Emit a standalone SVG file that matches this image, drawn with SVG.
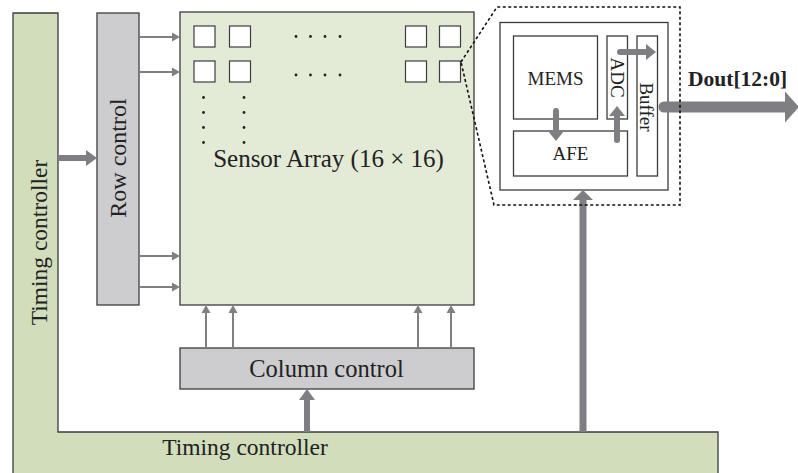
<svg xmlns="http://www.w3.org/2000/svg" width="798" height="473" viewBox="0 0 798 473">
<style>
.box{stroke:#3c3c3c;stroke-width:1.3}
.tc{fill:#d1ddbb}
.arr{fill:#e3ead6}
.gray{fill:#cdcdcf}
.wht{fill:#ffffff}
.pix{fill:#ffffff;stroke:#3c3c3c;stroke-width:1.2}
.t{font-family:"Liberation Serif","Times New Roman",serif;fill:#222;text-anchor:middle}
.thin{stroke:#808080;stroke-width:2;fill:none}
.thick{stroke:#7f7f83;fill:none}
.dot{fill:#222}
</style>
<defs>
<marker id="hThin" markerUnits="userSpaceOnUse" markerWidth="8" markerHeight="9" refX="0" refY="4.5" orient="auto" overflow="visible"><path d="M0,0 L8,4.5 L0,9 Z" fill="#808080"/></marker>
<marker id="hMid" markerUnits="userSpaceOnUse" markerWidth="11" markerHeight="16" refX="0" refY="8" orient="auto" overflow="visible"><path d="M0,0 L11,8 L0,16 Z" fill="#7f7f83"/></marker>
<marker id="hIn" markerUnits="userSpaceOnUse" markerWidth="10" markerHeight="16" refX="0" refY="8" orient="auto" overflow="visible"><path d="M0,0 L10,8 L0,16 Z" fill="#7f7f83"/></marker>
<marker id="hUp" markerUnits="userSpaceOnUse" markerWidth="10" markerHeight="20" refX="0" refY="10" orient="auto" overflow="visible"><path d="M0,0 L10,10 L0,20 Z" fill="#7f7f83"/></marker>
<marker id="hOut" markerUnits="userSpaceOnUse" markerWidth="14" markerHeight="31" refX="0" refY="15.5" orient="auto" overflow="visible"><path d="M0,0 L14,15.5 L0,31 Z" fill="#7f7f83"/></marker>
</defs>

<g id="timing-controller">
<path class="box tc" d="M13,13 H58 V432 H718 V476 H13 Z"/>
<text class="t" font-size="23.5" transform="translate(47,242.5) rotate(-90)">Timing controller</text>
<text class="t" font-size="23.5" x="245" y="455">Timing controller</text>
</g>

<g id="row-control">
<rect class="box gray" x="97" y="13" width="42" height="292"/>
<text class="t" font-size="24" transform="translate(125.5,158) rotate(-90)">Row control</text>
</g>

<g id="sensor-array">
<rect class="box arr" x="180" y="12" width="294" height="293"/>
<rect class="pix" x="194" y="26" width="21" height="21"/>
<rect class="pix" x="229.5" y="26" width="21" height="21"/>
<rect class="pix" x="405.5" y="26" width="21" height="21"/>
<rect class="pix" x="439.5" y="26" width="21" height="21"/>
<rect class="pix" x="194" y="61" width="21" height="21"/>
<rect class="pix" x="229.5" y="61" width="21" height="21"/>
<rect class="pix" x="405.5" y="61" width="21" height="21"/>
<rect class="pix" x="439.5" y="61" width="21" height="21"/>
<circle class="dot" cx="296" cy="36.5" r="1.4"/><circle class="dot" cx="310.5" cy="36.5" r="1.4"/><circle class="dot" cx="325" cy="36.5" r="1.4"/><circle class="dot" cx="340" cy="36.5" r="1.4"/>
<circle class="dot" cx="296" cy="75" r="1.4"/><circle class="dot" cx="310.5" cy="75" r="1.4"/><circle class="dot" cx="325" cy="75" r="1.4"/><circle class="dot" cx="340" cy="75" r="1.4"/>
<circle class="dot" cx="203.5" cy="97.5" r="1.4"/><circle class="dot" cx="203.5" cy="112.5" r="1.4"/><circle class="dot" cx="203.5" cy="127.5" r="1.4"/><circle class="dot" cx="203.5" cy="142.5" r="1.4"/>
<circle class="dot" cx="244" cy="97.5" r="1.4"/><circle class="dot" cx="244" cy="112.5" r="1.4"/><circle class="dot" cx="244" cy="127.5" r="1.4"/><circle class="dot" cx="244" cy="142.5" r="1.4"/>
<text class="t" font-size="25" x="328.5" y="167">Sensor Array (16 × 16)</text>
</g>

<g id="column-control">
<rect class="box gray" x="180" y="348" width="294" height="41"/>
<text class="t" font-size="24.5" x="326.5" y="376.5">Column control</text>
</g>

<g id="pixel-detail">
<rect class="box wht" x="500" y="22.5" width="168" height="167.5"/>
<g id="mems"><rect class="box wht" x="513.5" y="36" width="84" height="83"/><text class="t" font-size="19" x="555.5" y="85">MEMS</text></g>
<g id="afe"><rect class="box wht" x="513.5" y="131" width="114" height="45"/><text class="t" font-size="19" x="570.5" y="159.5">AFE</text></g>
<g id="adc"><rect class="box wht" x="607" y="36" width="20.5" height="83"/><text class="t" font-size="19" transform="translate(611,77.5) rotate(90)">ADC</text></g>
<g id="buffer"><rect class="box wht" x="637" y="36" width="20.5" height="140"/><text class="t" font-size="19" transform="translate(640,107) rotate(90)">Buffer</text></g>
</g>

<g id="connectors">
<line class="thin" x1="139" y1="37" x2="172" y2="37" marker-end="url(#hThin)"/>
<line class="thin" x1="139" y1="72" x2="172" y2="72" marker-end="url(#hThin)"/>
<line class="thin" x1="139" y1="256" x2="172" y2="256" marker-end="url(#hThin)"/>
<line class="thin" x1="139" y1="287" x2="172" y2="287" marker-end="url(#hThin)"/>
<line class="thin" x1="206" y1="348" x2="206" y2="313" marker-end="url(#hThin)"/>
<line class="thin" x1="233" y1="348" x2="233" y2="313" marker-end="url(#hThin)"/>
<line class="thin" x1="418" y1="348" x2="418" y2="313" marker-end="url(#hThin)"/>
<line class="thin" x1="451" y1="348" x2="451" y2="313" marker-end="url(#hThin)"/>
<line class="thick" stroke-width="6" x1="58" y1="158" x2="86" y2="158" marker-end="url(#hMid)"/>
<line class="thick" stroke-width="6" x1="307" y1="432" x2="307" y2="400" marker-end="url(#hMid)"/>
<line class="thick" stroke-width="7" x1="583" y1="432" x2="583" y2="200" marker-end="url(#hUp)"/>
<line class="thick" stroke-width="6" stroke-linecap="round" x1="556" y1="111" x2="556" y2="131" marker-end="url(#hIn)"/>
<line class="thick" stroke-width="6" stroke-linecap="round" x1="617" y1="140" x2="617" y2="116" marker-end="url(#hIn)"/>
<line class="thick" stroke-width="6" stroke-linecap="round" x1="620" y1="52" x2="646" y2="52" marker-end="url(#hIn)"/>
<line class="thick" stroke-width="11" stroke-linecap="round" x1="664" y1="107" x2="785" y2="107" marker-end="url(#hOut)"/>
</g>

<g id="callout">
<path d="M461,62 L497,7 L680,7 L680,205 L494,205 Z" fill="none" stroke="#111" stroke-width="1.6" stroke-dasharray="3,2.5"/>
</g>

<g id="dout-label">
<text font-family="Liberation Serif,'Times New Roman',serif" font-weight="bold" font-size="21.5" fill="#222" x="688" y="86">Dout[12:0]</text>
</g>
</svg>
